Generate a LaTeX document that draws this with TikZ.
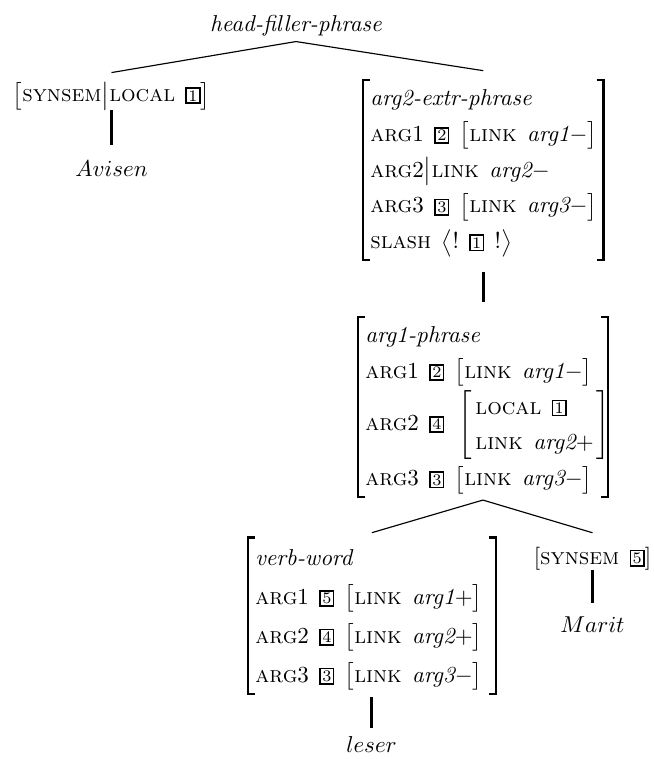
\documentclass[tikz,border=0pt]{standalone}
\usepackage{amsmath}
\usepackage{amssymb}
\usepackage{tikz}

\renewcommand{\arraystretch}{1.3}
\newcommand{\ft}[1]{\textsc{#1}}
\newcommand{\ty}[1]{\textit{#1}}
\newcommand{\avsep}{\hspace{4.5pt}}
\newcommand{\tagbox}[1]{\raisebox{0.3pt}{\setlength{\fboxsep}{0.6pt}\setlength{\fboxrule}{0.7pt}\fbox{\scriptsize #1}}}
% outer brackets of a multi-line feature structure
\newcommand{\avmbrackets}[1]{%
  \draw[avmbracket] ([xshift=3pt]#1.north west) -- (#1.north west) -- (#1.south west) -- ([xshift=3pt]#1.south west);
  \draw[avmbracket] ([xshift=-3pt]#1.north east) -- (#1.north east) -- (#1.south east) -- ([xshift=-3pt]#1.south east);}

\begin{document}
\begin{tikzpicture}[branch/.style={line width=0.5pt},
    stem/.style={line width=1.2pt},
    avm/.style={inner sep=0pt},
    avmbracket/.style={line width=1.1pt, line join=miter}]
    \useasboundingbox (0, 0) rectangle (10, -11.606);

    \node[avm] (hfp) at (4.526, -0.398) {\ty{head-filler-phrase}};

    \node[avm] (filler) at (1.705, -1.468) {$\left[\ft{synsem}\big|\ft{local}\avsep\tagbox{1}\right]$};
    \node[avm] (avisen) at (1.705, -2.584) {$Avisen$};

    \node[avm, anchor=west, text width=104.3pt] (extr) at (5.550, -2.599) {$\begin{array}{@{\hspace{3pt}}l@{}}
      \ty{arg2-extr-phrase}\\
      \ft{arg}1\avsep\tagbox{2}\avsep\bigl[\ft{link}\avsep\ty{arg1}{-}\bigr]\\
      \ft{arg}2\big|\ft{link}\avsep\ty{arg2}{-}\\
      \ft{arg}3\avsep\tagbox{3}\avsep\bigl[\ft{link}\avsep\ty{arg3}{-}\bigr]\\
      \ft{slash}\avsep\bigl\langle!\avsep\tagbox{1}\avsep!\bigr\rangle
    \end{array}$};
    \avmbrackets{extr}

    \node[avm, anchor=west, text width=108.3pt] (arg1p) at (5.474, -6.223) {$\begin{array}{@{\hspace{3pt}}l@{}}
      \ty{arg1-phrase}\\
      \ft{arg}1\avsep\tagbox{2}\avsep\bigl[\ft{link}\avsep\ty{arg1}{-}\bigr]\\
      \ft{arg}2\avsep\tagbox{4}\avsep\left[\begin{array}{@{\hspace{1.5pt}}l@{\hspace{1pt}}}
        \ft{local}\avsep\tagbox{1}\\
        \ft{link}\avsep\ty{arg2}{+}
      \end{array}\right]\\
      \ft{arg}3\avsep\tagbox{3}\avsep\bigl[\ft{link}\avsep\ty{arg3}{-}\bigr]
    \end{array}$};
    \avmbrackets{arg1p}

    \node[avm, anchor=west, text width=107.4pt] (verb) at (3.792, -9.419) {\renewcommand{\arraystretch}{1.41}$\begin{array}{@{\hspace{3pt}}l@{}}
      \ty{verb-word}\\
      \ft{arg}1\avsep\tagbox{5}\avsep\bigl[\ft{link}\avsep\ty{arg1}{+}\bigr]\\
      \ft{arg}2\avsep\tagbox{4}\avsep\bigl[\ft{link}\avsep\ty{arg2}{+}\bigr]\\
      \ft{arg}3\avsep\tagbox{3}\avsep\bigl[\ft{link}\avsep\ty{arg3}{-}\bigr]
    \end{array}$};
    \avmbrackets{verb}
    \node[avm] (leser) at (5.681, -11.391) {$leser$};

    \node[avm] (subj) at (9.060, -8.540) {$\left[\ft{synsem}\avsep\tagbox{5}\right]$};
    \node[avm] (marit) at (9.060, -9.557) {$Marit$};

    % tree edges
    \draw[branch] ([yshift=-2pt]hfp.south) -- ([yshift=4pt]filler.north);
    \draw[branch] ([yshift=-2pt]hfp.south) -- ([yshift=4pt]extr.north);
    \draw[stem] (filler.south) -- ([yshift=7pt]avisen.north);
    \draw[stem, shorten <=5pt, shorten >=6.5pt] (extr.south) -- (extr.south |- arg1p.north);
    \draw[branch] ([yshift=-1.3pt]arg1p.south) -- ([yshift=2.2pt]verb.north);
    \draw[branch] ([yshift=-1.3pt]arg1p.south) -- ([yshift=6pt]subj.north);
    \draw[stem, shorten <=1.3pt, shorten >=3.9pt] (verb.south) -- (verb.south |- leser.north);
    \draw[stem] (subj.south) -- ([yshift=6pt]marit.north);
\end{tikzpicture}
\end{document}
